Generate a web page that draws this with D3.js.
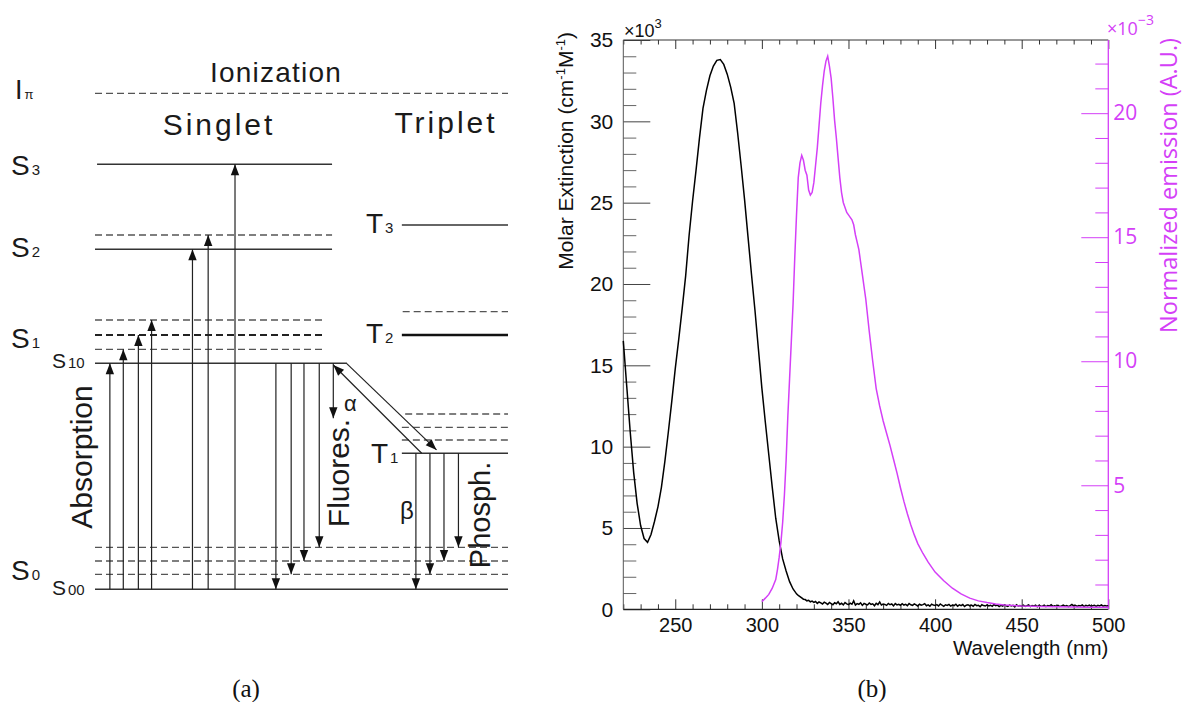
<!DOCTYPE html>
<html><head><meta charset="utf-8">
<script src="https://cdn.jsdelivr.net/npm/d3@7"></script>
<style>html,body{margin:0;padding:0;background:#fff;} svg{display:block;}</style>
</head><body><svg id="c" width="1184" height="702"></svg>
<script>
// ---------- DATA: absorption (molar extinction, x10^3) ----------
const absMainNm = d3.range(220, 321, 2);
const absMainVal = [16.5,13.7,10.9,8.4,6.5,5.15,4.35,4.12,4.6,5.4,
  6.3,7.5,9.1,10.9,12.8,14.8,16.6,18.5,20.5,23.0,
  25.1,27.0,29.0,30.8,31.9,32.8,33.4,33.75,33.8,33.5,
  32.9,32.1,31.1,29.3,27.3,25.2,22.9,20.6,18.4,16.0,
  13.6,11.5,9.5,7.5,5.6,4.2,3.1,2.35,1.7,1.25,0.95];
const absTailNm = d3.range(321, 501, 1);
const absTailVal = [
 0.85,0.78,0.70,0.62,0.60,0.52,0.55,0.46,0.50,0.42,
 0.48,0.36,0.45,0.40,0.33,0.44,0.38,0.30,0.42,0.35,
 0.28,0.40,0.34,0.46,0.30,0.37,0.27,0.41,0.33,0.29,
 0.38,0.31,0.52,0.26,0.35,0.30,0.40,0.24,0.36,0.31,
 0.27,0.39,0.30,0.34,0.22,0.37,0.29,0.45,0.26,0.32,
 0.30,0.24,0.36,0.28,0.33,0.21,0.35,0.27,0.31,0.25,
 0.34,0.26,0.30,0.22,0.36,0.28,0.24,0.33,0.27,0.20,
 0.31,0.25,0.29,0.35,0.22,0.27,0.19,0.32,0.26,0.23,
 0.29,0.21,0.33,0.25,0.18,0.28,0.24,0.30,0.20,0.26,
 0.23,0.31,0.19,0.27,0.22,0.29,0.17,0.25,0.28,0.21,
 0.26,0.19,0.30,0.22,0.25,0.16,0.28,0.23,0.20,0.27,
 0.21,0.25,0.18,0.29,0.22,0.26,0.17,0.24,0.20,0.27,
 0.22,0.18,0.26,0.21,0.24,0.15,0.28,0.20,0.23,0.19,
 0.25,0.18,0.22,0.27,0.17,0.23,0.20,0.26,0.16,0.24,
 0.21,0.19,0.25,0.17,0.23,0.20,0.28,0.18,0.22,0.19,
 0.24,0.17,0.21,0.26,0.19,0.23,0.16,0.22,0.30,0.20,
 0.25,0.18,0.23,0.21,0.27,0.17,0.24,0.20,0.26,0.19,
 0.22,0.25,0.18,0.24,0.21,0.27,0.19,0.23,0.20,0.22];

// ---------- DATA: normalized emission (x10^-3) ----------
const emNm = [300,302,304,306,308,309,310,311,312,313,314,315,316,317,318,319,320,
  321,322,323,324,325,326,327,328,329,330,331,332,333,334,335,336,337,338,339,340,
  341,342,343,344,345,346,347,348,349,350,351,352,353,354,355,356,357,358,359,360,
  362,364,366,368,370,372,374,376,378,380,382,384,386,388,390,393,396,400,405,410,
  415,420,425,430,435,440,450,460,470,480,490,500];
const emVal = [0.31,0.45,0.6,0.85,1.2,1.6,2.1,2.7,3.5,4.6,6.0,7.8,9.3,10.8,12.3,14.2,15.9,
  17.4,18.0,18.3,18.1,17.7,17.5,16.9,16.7,16.8,17.2,17.9,18.6,19.5,20.4,21.1,21.7,22.1,22.3,21.9,21.4,
  20.6,19.7,19.0,18.2,17.4,16.8,16.4,16.2,16.0,15.9,15.8,15.7,15.5,15.1,14.8,14.5,14.0,13.5,13.0,12.5,
  11.2,10.0,8.9,8.2,7.6,7.1,6.6,6.05,5.5,4.9,4.35,3.85,3.4,3.0,2.65,2.25,1.9,1.5,1.15,0.85,
  0.62,0.45,0.34,0.27,0.21,0.17,0.13,0.11,0.10,0.09,0.08,0.08];

// ---------- DATA: tick values ----------
const xMajorTicks = [250,300,350,400,450,500];
const xMinorTicks = [220,230,240,260,270,280,290,310,320,330,340,360,370,380,390,410,420,430,440,460,470,480,490];
const yLeftMajorTicks = [0,5,10,15,20,25,30,35];
const yLeftMinorTicks = [1,2,3,4,6,7,8,9,11,12,13,14,16,17,18,19,21,22,23,24,26,27,28,29,31,32,33,34];
const yRightMajorTicks = [5,10,15,20];
const yRightMinorTicks = [1,2,3,4,6,7,8,9,11,12,13,14,16,17,18,19,21,22];

// ---------- DATA: Jablonski diagram (energy units, schematic) ----------
// [energy, xStart, xEnd]
const solidLevels = [[0,0,100],[45.56,0,61.0],[68.55,0,57.4],[85.69,0.5,57.4],[27.42,74.3,100],[73.45,74.3,100]];
const thickSolidLevels = [[51.27,74.3,100]];
const dashedLevels = [[100,0,100],[3.02,0,100],[5.71,0,100],[8.47,0,100],[48.39,0,55.7],[54.29,0,55.7],
  [71.43,0,57.4],[55.97,74.5,100],[30.10,74.3,100],[32.66,74.3,100],[35.34,75.1,100]];
const thickDashedLevels = [[51.27,0,55.7]];
// [x, eFrom, eTo]
const absorptionArrows = [[3.6,0,45.56],[6.85,0,48.39],[10.5,0,51.27],[13.7,0,54.29],[23.6,0,68.55],[27.4,0,71.43],[33.9,0,85.69]];
const fluorArrows = [[43.8,45.56,0],[47.5,45.56,3.02],[50.6,45.56,5.71],[54.3,45.56,8.47]];
const alphaArrows = [[57.7,45.56,34.5]];
const phosArrows = [[77.7,27.42,0],[81.1,27.42,3.02],[84.5,27.42,5.71],[88.0,27.42,8.47]];
// [x0, e0, x1, e1]
const iscArrows = [[60.9,45.56,82.7,28.1],[79.1,27.42,57.7,45.22]];

// ================= DRAWING =================
const svg = d3.select('#c');
const SANS = "'Liberation Sans', Arial, Helvetica, sans-serif";
const PINKF = "'Open Sans', 'Liberation Sans', sans-serif";
const PINK = '#d43ff7';

// ----- panel (b) -----
const X0 = 623.3, X1 = 1108.3, Y0 = 609.3, Y1 = 40;
const x = d3.scaleLinear().domain([220, 500]).range([X0, X1]);
const yL = d3.scaleLinear().domain([0, 35]).range([Y0, Y1]);
const yR = d3.scaleLinear().domain([0, 22.95]).range([Y0, Y1]);

function tickAxis(axis, tr, color) {
  const g = svg.append('g').attr('transform', tr).call(axis.tickFormat(() => ''));
  g.select('.domain').remove();
  g.selectAll('line').attr('stroke', color).attr('stroke-width', 1);
  return g;
}
tickAxis(d3.axisTop(x).tickValues(xMajorTicks).tickSize(10), `translate(0,${Y0})`, '#333');
tickAxis(d3.axisTop(x).tickValues(xMinorTicks).tickSize(5), `translate(0,${Y0})`, '#333');
tickAxis(d3.axisBottom(x).tickValues(xMajorTicks).tickSize(9), `translate(0,${Y1})`, '#333');
tickAxis(d3.axisBottom(x).tickValues(xMinorTicks).tickSize(4.5), `translate(0,${Y1})`, '#333');
tickAxis(d3.axisRight(yL).tickValues(yLeftMajorTicks).tickSize(27), `translate(${X0},0)`, '#444');
tickAxis(d3.axisRight(yL).tickValues(yLeftMinorTicks).tickSize(13), `translate(${X0},0)`, '#666');
tickAxis(d3.axisLeft(yR).tickValues(yRightMajorTicks).tickSize(27), `translate(${X1},0)`, PINK);
tickAxis(d3.axisLeft(yR).tickValues(yRightMinorTicks).tickSize(13), `translate(${X1},0)`, PINK);

svg.append('line').attr('x1', X0).attr('x2', X1).attr('y1', Y0).attr('y2', Y0).attr('stroke', '#222').attr('stroke-width', 1.2);
svg.append('line').attr('x1', X0).attr('x2', X1).attr('y1', Y1).attr('y2', Y1).attr('stroke', '#333').attr('stroke-width', 1);
svg.append('line').attr('x1', X0).attr('x2', X0).attr('y1', Y1).attr('y2', Y0).attr('stroke', '#555').attr('stroke-width', 1);
svg.append('line').attr('x1', X1).attr('x2', X1).attr('y1', Y1).attr('y2', Y0).attr('stroke', PINK).attr('stroke-width', 1.3);

function labelAxis(axis, tr, font, size, color) {
  const g = svg.append('g').attr('transform', tr).call(axis);
  g.select('.domain').remove();
  g.selectAll('line').remove();
  g.attr('font-family', font).attr('font-size', size);
  g.selectAll('text').attr('fill', color);
  return g;
}
labelAxis(d3.axisBottom(x).tickValues(xMajorTicks).tickSize(0).tickPadding(8.5), `translate(0,${Y0})`, SANS, 20, '#111');
labelAxis(d3.axisLeft(yL).tickValues(yLeftMajorTicks).tickSize(0).tickPadding(10), `translate(${X0},0)`, SANS, 21, '#111');
labelAxis(d3.axisRight(yR).tickValues(yRightMajorTicks).tickSize(0).tickPadding(5), `translate(${X1},0)`, PINKF, 21, PINK);

const absData = absMainNm.map((n, i) => [n, absMainVal[i]]).concat(absTailNm.map((n, i) => [n, absTailVal[i]]));
const emData = emNm.map((n, i) => [n, emVal[i]]);
svg.append('path').datum(absData)
  .attr('d', d3.line().x(d => x(d[0])).y(d => yL(d[1])))
  .attr('fill', 'none').attr('stroke', '#000').attr('stroke-width', 1.5);
svg.append('path').datum(emData)
  .attr('d', d3.line().x(d => x(d[0])).y(d => yR(d[1])))
  .attr('fill', 'none').attr('stroke', PINK).attr('stroke-width', 1.5);

const lt = svg.append('text').attr('transform', 'translate(573,32) rotate(-90)')
  .attr('text-anchor', 'end').attr('font-family', SANS).attr('font-size', 21).attr('fill', '#111');
lt.append('tspan').text('Molar Extinction (cm');
lt.append('tspan').attr('font-size', 13).attr('dy', -8).text('-1');
lt.append('tspan').attr('dy', 8).text('M');
lt.append('tspan').attr('font-size', 13).attr('dy', -8).text('-1');
lt.append('tspan').attr('dy', 8).text(')');

svg.append('text').attr('transform', 'translate(1177,38) rotate(-90)')
  .attr('text-anchor', 'end').attr('font-family', PINKF).attr('font-size', 23.5).attr('fill', PINK)
  .text('Normalized emission (A.U.)');

svg.append('text').attr('x', X1).attr('y', 655).attr('text-anchor', 'end')
  .attr('font-family', SANS).attr('font-size', 20.5).attr('fill', '#111').text('Wavelength (nm)');

const m1 = svg.append('text').attr('x', 624).attr('y', 37).attr('font-family', SANS).attr('font-size', 18).attr('fill', '#111');
m1.append('tspan').text('×10');
m1.append('tspan').attr('font-size', 13).attr('dy', -9).text('3');

const m2 = svg.append('text').attr('x', 1107).attr('y', 35).attr('font-family', PINKF).attr('font-size', 18).attr('fill', PINK);
m2.append('tspan').text('×10');
m2.append('tspan').attr('font-size', 14).attr('dy', -10).text('−3');

svg.append('text').attr('x', 246).attr('y', 697).attr('text-anchor', 'middle')
  .attr('font-family', "'Liberation Serif', 'DejaVu Serif', serif").attr('font-size', 25).attr('fill', '#111').text('(a)');
svg.append('text').attr('x', 872).attr('y', 697).attr('text-anchor', 'middle')
  .attr('font-family', "'Liberation Serif', 'DejaVu Serif', serif").attr('font-size', 25).attr('fill', '#111').text('(b)');

// ----- panel (a): Jablonski diagram -----
const xD = d3.scaleLinear().domain([0, 100]).range([95, 508]);
const yD = d3.scaleLinear().domain([0, 100]).range([589.3, 93.3]);
const gA = svg.append('g');

function levels(arr, stroke, width, dash) {
  gA.selectAll(null).data(arr).enter().append('line')
    .attr('x1', d => xD(d[1])).attr('x2', d => xD(d[2]))
    .attr('y1', d => yD(d[0])).attr('y2', d => yD(d[0]))
    .attr('stroke', stroke).attr('stroke-width', width)
    .attr('stroke-dasharray', dash || null);
}
levels(dashedLevels, '#555', 1.3, '7,4');
levels(thickDashedLevels, '#222', 2.2, '7,4');
levels(solidLevels, '#333', 1.5);
levels(thickSolidLevels, '#111', 2.4);

function arrows(segs) {
  segs.forEach(s => {
    const x0 = xD(s[0]), y0 = yD(s[1]), x1 = xD(s[2]), y1 = yD(s[3]);
    gA.append('line').attr('x1', x0).attr('y1', y0).attr('x2', x1).attr('y2', y1)
      .attr('stroke', '#222').attr('stroke-width', 1.2);
    const a = Math.atan2(y1 - y0, x1 - x0), L = 11, W = 4.2;
    const bx = x1 - L * Math.cos(a), by = y1 - L * Math.sin(a);
    const px = -Math.sin(a) * W, py = Math.cos(a) * W;
    const p = d3.path();
    p.moveTo(x1, y1); p.lineTo(bx + px, by + py); p.lineTo(bx - px, by - py); p.closePath();
    gA.append('path').attr('d', p.toString()).attr('fill', '#111');
  });
}
const vert = a => a.map(d => [d[0], d[1], d[0], d[2]]);
arrows(vert(absorptionArrows));
arrows(vert(fluorArrows));
arrows(vert(alphaArrows));
arrows(vert(phosArrows));
arrows(iscArrows);

function txt(xp, yp, size, s, opts) {
  const t = gA.append('text').attr('x', xp).attr('y', yp).attr('font-family', SANS)
    .attr('font-size', size).attr('fill', '#1a1a1a').text(s);
  if (opts) Object.entries(opts).forEach(([k, v]) => t.attr(k, v));
  return t;
}
function sub(xp, yp, size, main, subs, subSize) {
  const t = gA.append('text').attr('x', xp).attr('y', yp).attr('font-family', SANS)
    .attr('font-size', size).attr('fill', '#1a1a1a');
  t.append('tspan').text(main);
  t.append('tspan').attr('font-size', subSize).attr('dx', 2).text(subs);
}
txt(276, 82, 28, 'Ionization', {'text-anchor': 'middle', 'letter-spacing': 1.2});
txt(219, 135, 30, 'Singlet', {'text-anchor': 'middle', 'letter-spacing': 3});
txt(446, 133, 30, 'Triplet', {'text-anchor': 'middle', 'letter-spacing': 3});
sub(15, 99, 27, 'I', 'π', 13);
sub(11, 175, 28, 'S', '3', 15);
sub(11, 257, 28, 'S', '2', 15);
sub(11, 348, 28, 'S', '1', 15);
sub(11, 580, 28, 'S', '0', 15);
sub(52, 368, 21, 'S', '10', 15);
sub(52, 595, 21, 'S', '00', 15);
sub(366, 233, 28, 'T', '3', 15);
sub(366, 343, 28, 'T', '2', 15);
sub(371, 463, 28, 'T', '1', 15);
txt(344, 411, 22, 'α');
txt(400, 519, 24, 'β');
txt(0, 0, 30, 'Absorption', {'text-anchor': 'middle', transform: 'translate(92,457) rotate(-90)'});
txt(0, 0, 30, 'Fluores.', {'text-anchor': 'middle', transform: 'translate(349,473) rotate(-90)'});
txt(0, 0, 29, 'Phosph.', {'text-anchor': 'middle', transform: 'translate(490,515) rotate(-90)'});
</script></body></html>
